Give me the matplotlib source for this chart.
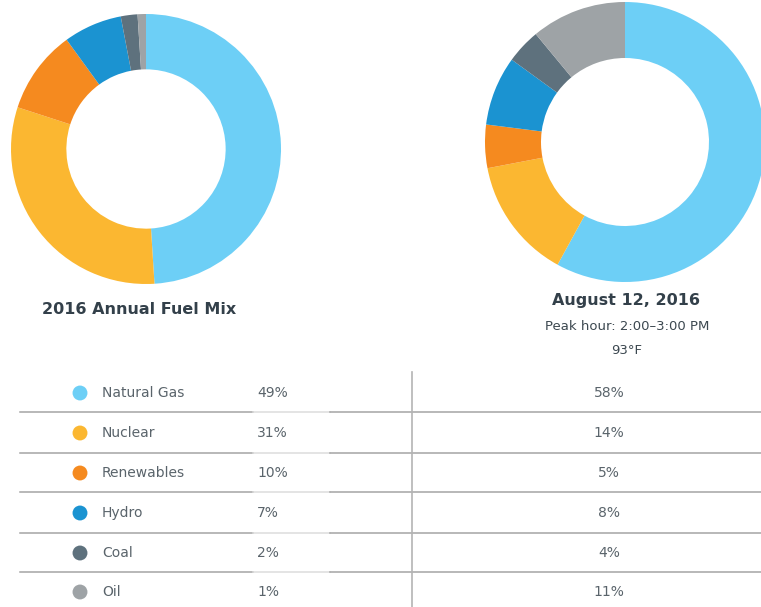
import matplotlib
matplotlib.use("Agg")
import matplotlib.pyplot as plt

categories = ["Natural Gas", "Nuclear", "Renewables", "Hydro", "Coal", "Oil"]
annual_2016 = [49, 31, 10, 7, 2, 1]
peak_aug12 = [58, 14, 5, 8, 4, 11]
colors = ["#6dcff6", "#fbb731", "#f58a1f", "#1b93d1", "#5e717d", "#9ea3a6"]

W, H = 761, 607
fig = plt.figure(figsize=(W / 100, H / 100), dpi=100)
fig.patch.set_facecolor("white")


def px_axes(x0, y0, w, h):
    return fig.add_axes([x0 / W, 1 - (y0 + h) / H, w / W, h / H])


def donut(cx, cy, r, vals, width):
    ax = px_axes(cx - r, cy - r, 2 * r, 2 * r)
    ax.pie(vals, colors=colors, startangle=90, counterclock=False,
           radius=1.0, wedgeprops=dict(width=width, edgecolor="none"))
    ax.set_xlim(-1, 1)
    ax.set_ylim(-1, 1)
    ax.set_aspect("equal")
    ax.axis("off")


donut(146, 149, 135, annual_2016, 0.41)
donut(625, 142, 140, peak_aug12, 0.40)

title_col = "#33404a"
fig.text(139 / W, 1 - 310 / H, "2016 Annual Fuel Mix", ha="center", va="center",
         fontsize=11.5, fontweight="bold", color=title_col, family="DejaVu Sans")
fig.text(626 / W, 1 - 301 / H, "August 12, 2016", ha="center", va="center",
         fontsize=11.5, fontweight="bold", color=title_col, family="DejaVu Sans")
fig.text(627 / W, 1 - 326 / H, "Peak hour: 2:00\u20133:00 PM", ha="center", va="center",
         fontsize=9.5, color="#3c4850", family="DejaVu Sans")
fig.text(627 / W, 1 - 350 / H, "93°F", ha="center", va="center",
         fontsize=9.5, color="#3c4850", family="DejaVu Sans")

# table
tab = fig.add_axes([0, 0, 1, 1])
tab.set_xlim(0, W)
tab.set_ylim(H, 0)
tab.axis("off")
row_y = [393, 433, 473, 513, 553, 592]
line_y = [412, 453, 492, 533, 572]
txt_col = "#5a646b"
fs = 10
for i, cat in enumerate(categories):
    y = row_y[i]
    tab.scatter([80], [y], s=115, color=colors[i], zorder=3, edgecolors="none")
    tab.text(102, y, cat, ha="left", va="center", fontsize=fs, color=txt_col,
             family="DejaVu Sans")
    tab.text(257, y, f"{annual_2016[i]}%", ha="left", va="center", fontsize=fs,
             color=txt_col, family="DejaVu Sans")
    tab.text(609, y, f"{peak_aug12[i]}%", ha="center", va="center", fontsize=fs,
             color=txt_col, family="DejaVu Sans")
for y in line_y:
    tab.plot([20, 253], [y, y], color="#a4a4a4", lw=1.1)
    tab.plot([253, 330], [y, y], color="#dcdcdc", lw=1.1)
    tab.plot([330, 761], [y, y], color="#a4a4a4", lw=1.1)
tab.plot([412, 412], [372, 607], color="#b4b4b4", lw=1.2)

fig.savefig("out.png", dpi=100, facecolor="white")
